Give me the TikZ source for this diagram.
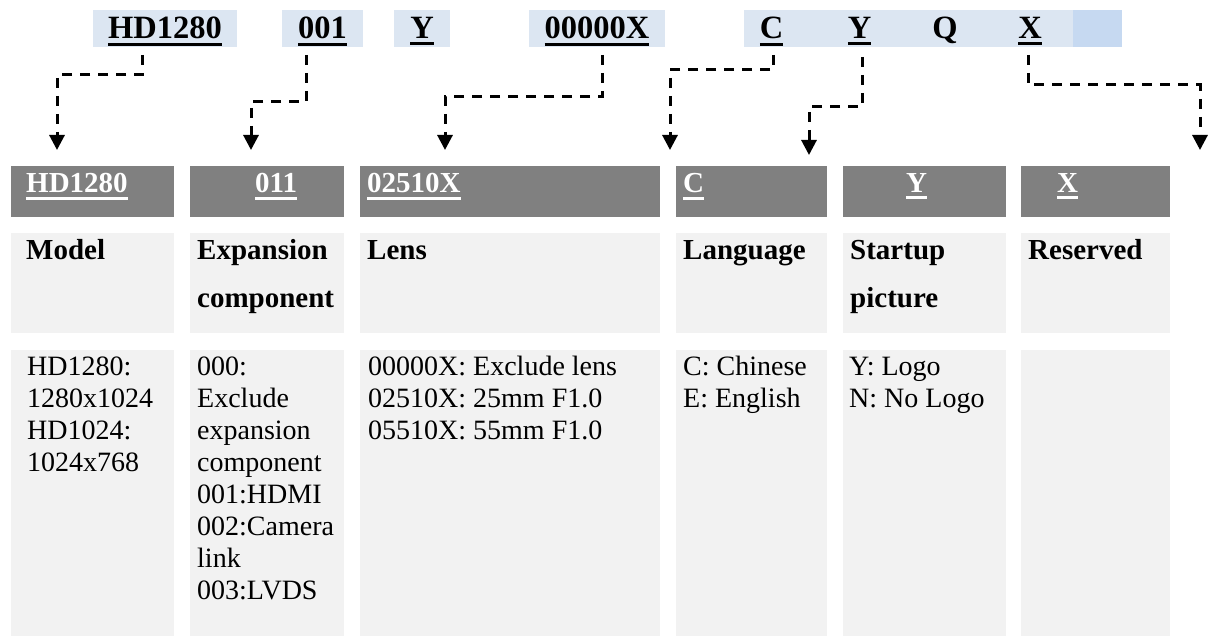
\documentclass[tikz,border=0pt]{standalone}
\usepackage{fontspec}
\setmainfont{Liberation Serif}
\usetikzlibrary{arrows.meta}
\definecolor{topblue}{HTML}{DCE6F2}
\definecolor{topblueb}{HTML}{C6D9F1}
\definecolor{bargray}{HTML}{808080}
\definecolor{cellgray}{HTML}{F2F2F2}
\newcommand{\myTopFont}{\fontsize{32.5}{39}\selectfont\bfseries}
\newcommand{\myBarFont}{\fontsize{29}{35}\selectfont\bfseries\color{white}}
\newcommand{\myHeadFont}{\fontsize{29}{48}\selectfont\bfseries}
\newcommand{\myBodyFont}{\fontsize{28}{32}\selectfont}
\newcommand{\myUl}[1]{\leavevmode\vtop{\hbox{#1}\kern3.5pt\hrule height 3pt}}
\begin{document}
\begin{tikzpicture}[x=1pt,y=-1pt,
  topbox/.style={fill=topblue, inner sep=0, text height=29pt, text depth=8pt, minimum height=37pt, font=\myTopFont},
  letter/.style={anchor=base, inner sep=0, font=\myTopFont},
  barbox/.style={fill=bargray, inner sep=0, minimum height=51pt},
  bartext/.style={anchor=base west, inner sep=0, font=\myBarFont},
  headbox/.style={fill=cellgray, inner sep=0, minimum height=100pt},
  headtext/.style={anchor=base west, inner sep=0, font=\myHeadFont},
  bodybox/.style={fill=cellgray, inner sep=0, minimum height=286pt},
  bodytext/.style={anchor=base west, inner sep=0, font=\myBodyFont},
  conn/.style={draw, line width=3pt, dash pattern=on 10pt off 8pt, -{Triangle[width=15pt,length=15pt]}}
]
\useasboundingbox (0,0) rectangle (1208,636);

% top code boxes
\node[topbox, anchor=base, minimum width=144pt] (tb1) at (165,39) {\myUl{HD1280}};
\node[topbox, anchor=base, minimum width=81pt] (tb2) at (322.5,39) {\myUl{001}};
\node[topbox, anchor=base, minimum width=56pt] (tb3) at (422,39) {\myUl{Y}};
\node[topbox, anchor=base, minimum width=136pt] (tb4) at (597,39) {\myUl{00000X}};
\node[fill=topblue, inner sep=0, minimum width=329pt, minimum height=37pt] (tb5) at (908.5,28.5) {};
\node[fill=topblueb, inner sep=0, minimum width=49pt, minimum height=37pt] (tb6) at (1097.5,28.5) {};
\node[letter] (lc) at (771.5,39) {\myUl{C}};
\node[letter] (ly) at (859.5,39) {\myUl{Y}};
\node[letter] (lq) at (945,39) {Q};
\node[letter] (lx) at (1030,39) {\myUl{X}};

% gray bars
\node[barbox, minimum width=163pt] (g1) at (92.5,191.5) {};
\node[barbox, minimum width=154pt] (g2) at (267,191.5) {};
\node[barbox, minimum width=300pt] (g3) at (510,191.5) {};
\node[barbox, minimum width=151pt] (g4) at (751.5,191.5) {};
\node[barbox, minimum width=163pt] (g5) at (924.5,191.5) {};
\node[barbox, minimum width=149pt] (g6) at (1095.5,191.5) {};
\node[bartext] (gt1) at (26,193) {\myUl{HD1280}};
\node[bartext] (gt2) at (255,193) {\myUl{011}};
\node[bartext] (gt3) at (367,193) {\myUl{02510X}};
\node[bartext] (gt4) at (683,193) {\myUl{C}};
\node[bartext] (gt5) at (906,193) {\myUl{Y}};
\node[bartext] (gt6) at (1057,193) {\myUl{X}};

% header cells
\node[headbox, minimum width=163pt] (h1) at (92.5,283) {};
\node[headbox, minimum width=154pt] (h2) at (267,283) {};
\node[headbox, minimum width=300pt] (h3) at (510,283) {};
\node[headbox, minimum width=151pt] (h4) at (751.5,283) {};
\node[headbox, minimum width=163pt] (h5) at (924.5,283) {};
\node[headbox, minimum width=149pt] (h6) at (1095.5,283) {};
\node[headtext] (ht1) at (26,260) {Model};
\node[headtext] (ht2) at (197,260) {\begin{tabular}[t]{@{}l@{}}Expansion\\component\end{tabular}};
\node[headtext] (ht3) at (367,260) {Lens};
\node[headtext] (ht4) at (683,260) {Language};
\node[headtext] (ht5) at (850,260) {\begin{tabular}[t]{@{}l@{}}Startup\\picture\end{tabular}};
\node[headtext] (ht6) at (1028,260) {Reserved};

% body cells
\node[bodybox, minimum width=163pt] (b1) at (92.5,493) {};
\node[bodybox, minimum width=154pt] (b2) at (267,493) {};
\node[bodybox, minimum width=300pt] (b3) at (510,493) {};
\node[bodybox, minimum width=151pt] (b4) at (751.5,493) {};
\node[bodybox, minimum width=163pt] (b5) at (924.5,493) {};
\node[bodybox, minimum width=149pt] (b6) at (1095.5,493) {};
\node[bodytext] (bt1) at (27,376) {\begin{tabular}[t]{@{}l@{}}HD1280:\\1280x1024\\HD1024:\\1024x768\end{tabular}};
\node[bodytext] (bt2) at (197,376) {\begin{tabular}[t]{@{}l@{}}000:\\Exclude\\expansion\\component\\001:HDMI\\002:Camera\\link\\003:LVDS\end{tabular}};
\node[bodytext] (bt3) at (368,376) {\begin{tabular}[t]{@{}l@{}}00000X: Exclude lens\\02510X: 25mm F1.0\\05510X: 55mm F1.0\end{tabular}};
\node[bodytext] (bt4) at (683,376) {\begin{tabular}[t]{@{}l@{}}C: Chinese\\E: English\end{tabular}};
\node[bodytext] (bt5) at (849,376) {\begin{tabular}[t]{@{}l@{}}Y: Logo\\N: No Logo\end{tabular}};

% connector coordinates
\coordinate (s1) at (142,55);  \coordinate (k1) at (57,75);   \coordinate (e1) at (57,150);
\coordinate (s2) at (306,55);  \coordinate (k2) at (251,102); \coordinate (e2) at (251,150);
\coordinate (s3) at (602,55);  \coordinate (k3) at (445,97);  \coordinate (e3) at (445,150);
\coordinate (s4) at (773,55);  \coordinate (k4) at (670,70);  \coordinate (e4) at (670,150);
\coordinate (s5) at (862,57);  \coordinate (k5) at (809,107); \coordinate (e5) at (809,155);
\coordinate (s6) at (1028,55); \coordinate (k6) at (1200,85); \coordinate (e6) at (1200,150);

\draw[conn] (s1) |- (k1) -- (e1);
\draw[conn] (s2) |- (k2) -- (e2);
\draw[conn] (s3) |- (k3) -- (e3);
\draw[conn] (s4) |- (k4) -- (e4);
\draw[conn] (s5) |- (k5) -- (e5);
\draw[conn] (s6) |- (k6) -- (e6);
\end{tikzpicture}
\end{document}
